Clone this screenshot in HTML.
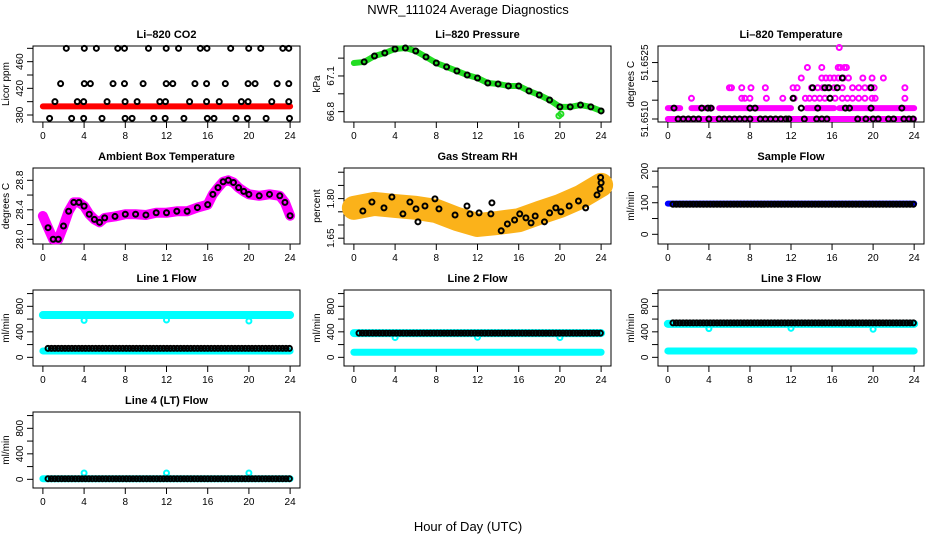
<!DOCTYPE html>
<html><head><meta charset="utf-8"><style>
body{margin:0;background:#fff}
svg{display:block;font-family:"Liberation Sans",sans-serif}
</style></head><body>
<svg id="c" width="936" height="540"></svg>
<script>
// ---------- data ----------
const co2Levels=[480,427,400,375];
const co2H0=[2.27,4.02,5.19,7.27,7.92,10.25,11.97,13.17,15.28,15.93,18.23,19.98,21.15,23.29,23.87];
const co2H1=[1.72,4.02,4.61,6.81,7.92,9.73,11.97,12.61,14.76,15.89,17.71,19.92,20.6,22.74,23.87];
const co2H2=[1.17,3.34,3.96,6.23,7.98,9.15,11.35,11.9,14.24,15.89,17.12,19.27,19.92,22.22,23.87];
const co2H3=[0.65,2.79,3.96,5.74,7.98,8.66,10.77,11.87,13.69,15.96,16.61,18.75,19.85,21.67,23.94];
const co2Red=393;
const pressHours=[0,1,2,3,4,5,6,7,8,9,10,11,12,13,14,15,16,17,18,19,20,21,22,23,24];
const pressVals=[67.209,67.218,67.268,67.293,67.327,67.335,67.31,67.26,67.209,67.176,67.142,67.108,67.083,67.041,67.033,67.016,67.016,66.974,66.94,66.898,66.84,66.84,66.856,66.84,66.806];
const pressDipH=[19.9,20.1];
const pressDipV=[66.765,66.78];
const tLevels=[51.651,51.65129,51.65155,51.65183,51.65209,51.65237,51.6529];
const tSeg2Start=[0,2.3,5,13.5,16.7];
const tSeg2End=[1.2,4.3,12,16.2,24];
const tMagH=[2.3,7.2,7.5,8.0,9.6,11.2,12.3,13.4,13.8,14.3,14.8,15.3,15.8,16.3,17.0,17.5,18.0,18.6,19.2,19.9,20.2,23.1,
 6.0,6.2,7.2,8.1,9.5,12.2,12.6,14.0,14.6,15.1,15.6,16.2,17.0,18.0,18.6,19.2,19.7,20.1,23.1,
 13.0,15.0,15.4,15.8,16.2,16.6,17.1,17.6,19.0,19.9,21.0,
 13.6,15.0,16.6,16.8,17.2,17.4,16.7];
const tMagV=[51.65155,51.65155,51.65155,51.65155,51.65155,51.65155,51.65155,51.65155,51.65155,51.65155,51.65155,51.65155,51.65155,51.65155,51.65155,51.65155,51.65155,51.65155,51.65155,51.65155,51.65155,51.65155,
 51.65183,51.65183,51.65183,51.65183,51.65183,51.65183,51.65183,51.65183,51.65183,51.65183,51.65183,51.65183,51.65183,51.65183,51.65183,51.65183,51.65183,51.65183,51.65183,
 51.65209,51.65209,51.65209,51.65209,51.65209,51.65209,51.65209,51.65209,51.65209,51.65209,51.65209,
 51.65237,51.65237,51.65237,51.65237,51.65237,51.65237,51.6529];
const tBlkH=[1.0,1.5,2.0,2.5,3.0,4.0,5.0,5.5,6.0,6.5,7.0,7.5,8.0,9.0,9.5,10,10.5,11,11.5,11.8,13.3,14.5,15,15.5,18.5,19.3,20,20.5,21.5,22,23,23.5,23.9,
 0.6,3.3,3.9,4.2,8.0,8.5,13.0,14.6,17.3,17.7,19.8,22.8,
 12.2,15.8,14.1,15.3,15.7,16.5,19.8,17.0];
const tBlkV=[51.651,51.651,51.651,51.651,51.651,51.651,51.651,51.651,51.651,51.651,51.651,51.651,51.651,51.651,51.651,51.651,51.651,51.651,51.651,51.651,51.651,51.651,51.651,51.651,51.651,51.651,51.651,51.651,51.651,51.651,51.651,51.651,51.651,
 51.65129,51.65129,51.65129,51.65129,51.65129,51.65129,51.65129,51.65129,51.65129,51.65129,51.65129,51.65129,
 51.65155,51.65155,51.65183,51.65183,51.65183,51.65183,51.65183,51.65209];
const ambHours=[0,0.5,1,1.5,2,2.5,3,3.5,4,4.5,5,5.5,6,7,8,9,10,11,12,13,14,15,16,16.5,17,17.5,18,18.5,19,19.5,20,21,22,23,23.5,24];
const ambVals=[28.316,28.157,28.0,28.0,28.18,28.38,28.5,28.5,28.45,28.34,28.27,28.23,28.29,28.31,28.34,28.34,28.33,28.36,28.36,28.38,28.38,28.43,28.47,28.61,28.7,28.78,28.8,28.77,28.7,28.65,28.61,28.59,28.61,28.59,28.5,28.32];
const rhHours=[0,2,4,6,8,10,12,14,16,18,20,22,24];
const rhVals=[1.765,1.78,1.772,1.765,1.753,1.723,1.70,1.708,1.718,1.746,1.772,1.806,1.852];
const rhBlkH=[0.87,1.75,2.92,3.69,4.76,5.44,6.03,6.22,6.9,7.87,8.26,9.82,10.98,11.27,12.15,13.3,13.4,14.3,14.9,15.6,16.1,16.7,17.2,17.6,18.5,19.0,19.6,20.1,20.9,21.8,22.5,23.6,23.9,24.0,23.95];
const rhBlkV=[1.753,1.787,1.765,1.806,1.742,1.787,1.761,1.712,1.772,1.799,1.761,1.738,1.772,1.742,1.746,1.742,1.784,1.678,1.704,1.719,1.742,1.727,1.708,1.734,1.712,1.746,1.765,1.75,1.772,1.791,1.765,1.814,1.837,1.86,1.88];
const sampleBlue=97, sampleBlack=95;
const flowDipHours=[4,12,20];
const l1Hi=663, l1Dips=[580,585,570], l1Lo=100, l1Blk=141;
const l2Hi=380, l2Dips=[310,315,310], l2Lo=80, l2Blk=380;
const l3Hi=525, l3Dips=[450,455,440], l3Lo=100, l3Blk=540;
const l4Lo=10, l4Dips=[100,100,100], l4Blk=10;
const xTicks=[0,4,8,12,16,20,24];
const flowTicks=[0,200,400,600,800,1000], flowLabels=[0,400,800];

// ---------- helpers ----------
const svg=document.getElementById('c');
const NS='http://www.w3.org/2000/svg';
function mk(tag,attrs,parent){const e=document.createElementNS(NS,tag);for(const k in attrs)e.setAttribute(k,attrs[k]);(parent||svg).appendChild(e);return e;}
const colL=[33,344,658], colR=[300,611,924], rowT=[46,168,290,412], PH=76;

function makePanel(name,title,col,row,ymin,ymax,ticks,labels,ylab,fmt){
  const g=mk('g',{});
  
  
  const L=colL[col],R=colR[col],T=rowT[row],B=T+PH;
  const sx=h=>L+(h+0.96)/25.92*(R-L);
  const sy=v=>B-(v-ymin)/(ymax-ymin)*PH;
  const t=mk('text',{x:(L+R)/2,y:T-8,'text-anchor':'middle','font-size':11,'font-weight':'bold'},g);
  t.textContent=title;
  
  
  const box=mk('rect',{x:L,y:T,width:R-L,height:PH,fill:'none',stroke:'#000','stroke-width':1},g);
  
  
  const xa=mk('g',{},g);
  
  
  xTicks.forEach(h=>{
    mk('line',{x1:sx(h),x2:sx(h),y1:B,y2:B+6,stroke:'#000'},xa);
    const tl=mk('text',{x:sx(h),y:B+17,'text-anchor':'middle','font-size':10},xa);
    tl.textContent=h;
    
    
  });
  const ya=mk('g',{},g);
  
  
  ticks.forEach(v=>{const y=sy(v);if(y<T-1||y>B+1)return;mk('line',{x1:L-6,x2:L,y1:y,y2:y,stroke:'#000'},ya);});
  labels.forEach(v=>{
    const y=sy(v);
    const tl=mk('text',{x:L-10,y:y,'text-anchor':'middle','font-size':10,transform:`rotate(-90 ${L-10} ${y})`},ya);
    tl.textContent=fmt?fmt(v):v;
    
    
  });
  const yl=mk('text',{x:L-24,y:(T+B)/2,'text-anchor':'middle','font-size':10,transform:`rotate(-90 ${L-24} ${(T+B)/2})`},g);
  yl.textContent=ylab;
  
  
  return {g,sx,sy,L,R,T,B};
}
function line(p,hs,vs,color,w,name){
  const pl=mk('polyline',{points:hs.map((h,i)=>p.sx(h)+','+p.sy(vs[i])).join(' '),fill:'none',stroke:color,'stroke-width':w,'stroke-linejoin':'round','stroke-linecap':'round'},p.g);
  
  
}
function pts(p,hs,vs,color,name){
  const g=mk('g',{},p.g);
  
  
  hs.forEach((h,i)=>{
    const c=mk('circle',{cx:p.sx(h),cy:p.sy(vs[i]),r:2.5,fill:'none',stroke:color,'stroke-width':2},g);
    
    
  });
}
function row(p,h0,h1,v,color,name){
  const g=mk('g',{},p.g);
  
  
  for(let h=h0;h<=h1+1e-6;h+=0.33){
    const c=mk('circle',{cx:p.sx(h),cy:p.sy(v),r:2.5,fill:'none',stroke:color,'stroke-width':2},g);
    
    
  }
}

// main titles
const mt=mk('text',{x:468,y:14,'text-anchor':'middle','font-size':13});
mt.textContent='NWR_111024  Average Diagnostics';


const xt=mk('text',{x:468,y:531,'text-anchor':'middle','font-size':13});
xt.textContent='Hour of Day (UTC)';



// CO2
let p=makePanel('co2','Li–820 CO2',0,0,369.5,483.5,[380,400,420,440,460,480],[380,420,460],'Licor ppm');
line(p,[0,24],[co2Red,co2Red],'#ff0000',6,'co2-red-series');
[co2H0,co2H1,co2H2,co2H3].forEach((hs,k)=>pts(p,hs,hs.map(()=>co2Levels[k]),'#000','co2-black-series'));
// Pressure
p=makePanel('pressure','Li–820 Pressure',1,0,66.713,67.352,[66.8,66.95,67.1,67.25],[66.8,67.1],'kPa',v=>v.toFixed(1));
line(p,pressHours,pressVals,'#22dd22',6,'pressure-green-series');
pts(p,pressDipH,pressDipV,'#22dd22','pressure-green-dip');
pts(p,pressHours.slice(1),pressVals.slice(1),'#000','pressure-black-series');
// Temperature
p=makePanel('li820-temp','Li–820 Temperature',2,0,51.65092,51.65294,[51.651,51.6515,51.652,51.6525,51.653],[51.651,51.6525],'degrees C',v=>v.toFixed(4));
line(p,[0,24],[tLevels[0],tLevels[0]],'#ff00ff',6,'temp-magenta-base');
tSeg2Start.forEach((s,i)=>line(p,[s,tSeg2End[i]],[tLevels[1],tLevels[1]],'#ff00ff',6,'temp-magenta-level'));
pts(p,tMagH,tMagV,'#ff00ff','temp-magenta-points');
pts(p,tBlkH,tBlkV,'#000','temp-black-points');
// Ambient
p=makePanel('ambient','Ambient Box Temperature',0,1,27.936,28.967,[28.0,28.2,28.4,28.6,28.8],[28.0,28.4,28.8],'degrees C',v=>v.toFixed(1));
line(p,ambHours,ambVals,'#ff00ff',10,'ambient-magenta-series');
pts(p,ambHours.slice(1),ambVals.slice(1),'#000','ambient-black-series');
// RH
p=makePanel('rh','Gas Stream RH',1,1,1.628,1.916,[1.65,1.70,1.75,1.80,1.85,1.90],[1.65,1.80],'percent',v=>v.toFixed(2));
line(p,rhHours,rhVals,'#fbb21a',24,'rh-orange-series');
pts(p,rhBlkH,rhBlkV,'#000','rh-black-series');
// Sample flow
p=makePanel('sample-flow','Sample Flow',2,1,-30.7,210,[0,50,100,150,200],[0,100,200],'ml/min');
line(p,[0,24],[sampleBlue,sampleBlue],'#0000ff',6,'sample-blue-series');
row(p,0.5,24,sampleBlack,'#000','sample-black-series');
// Line flows
const flows=[['line1','Line 1 Flow',0,2,l1Hi,l1Dips,l1Lo,l1Blk],['line2','Line 2 Flow',1,2,l2Hi,l2Dips,l2Lo,l2Blk],['line3','Line 3 Flow',2,2,l3Hi,l3Dips,l3Lo,l3Blk],['line4','Line 4 (LT) Flow',0,3,null,l4Dips,l4Lo,l4Blk]];
flows.forEach(f=>{
  const q=makePanel(f[0],f[1],f[2],f[3],-136,1056,flowTicks,flowLabels,'ml/min');
  if(f[4]!==null)line(q,[0,24],[f[4],f[4]],'#00ffff',8,f[0]+'-cyan-high');
  line(q,[0,24],[f[6],f[6]],'#00ffff',7,f[0]+'-cyan-low');
  pts(q,flowDipHours,f[5],'#00ffff',f[0]+'-cyan-dips');
  row(q,0.5,24,f[7],'#000',f[0]+'-black-series');
});
</script>
</body></html>
